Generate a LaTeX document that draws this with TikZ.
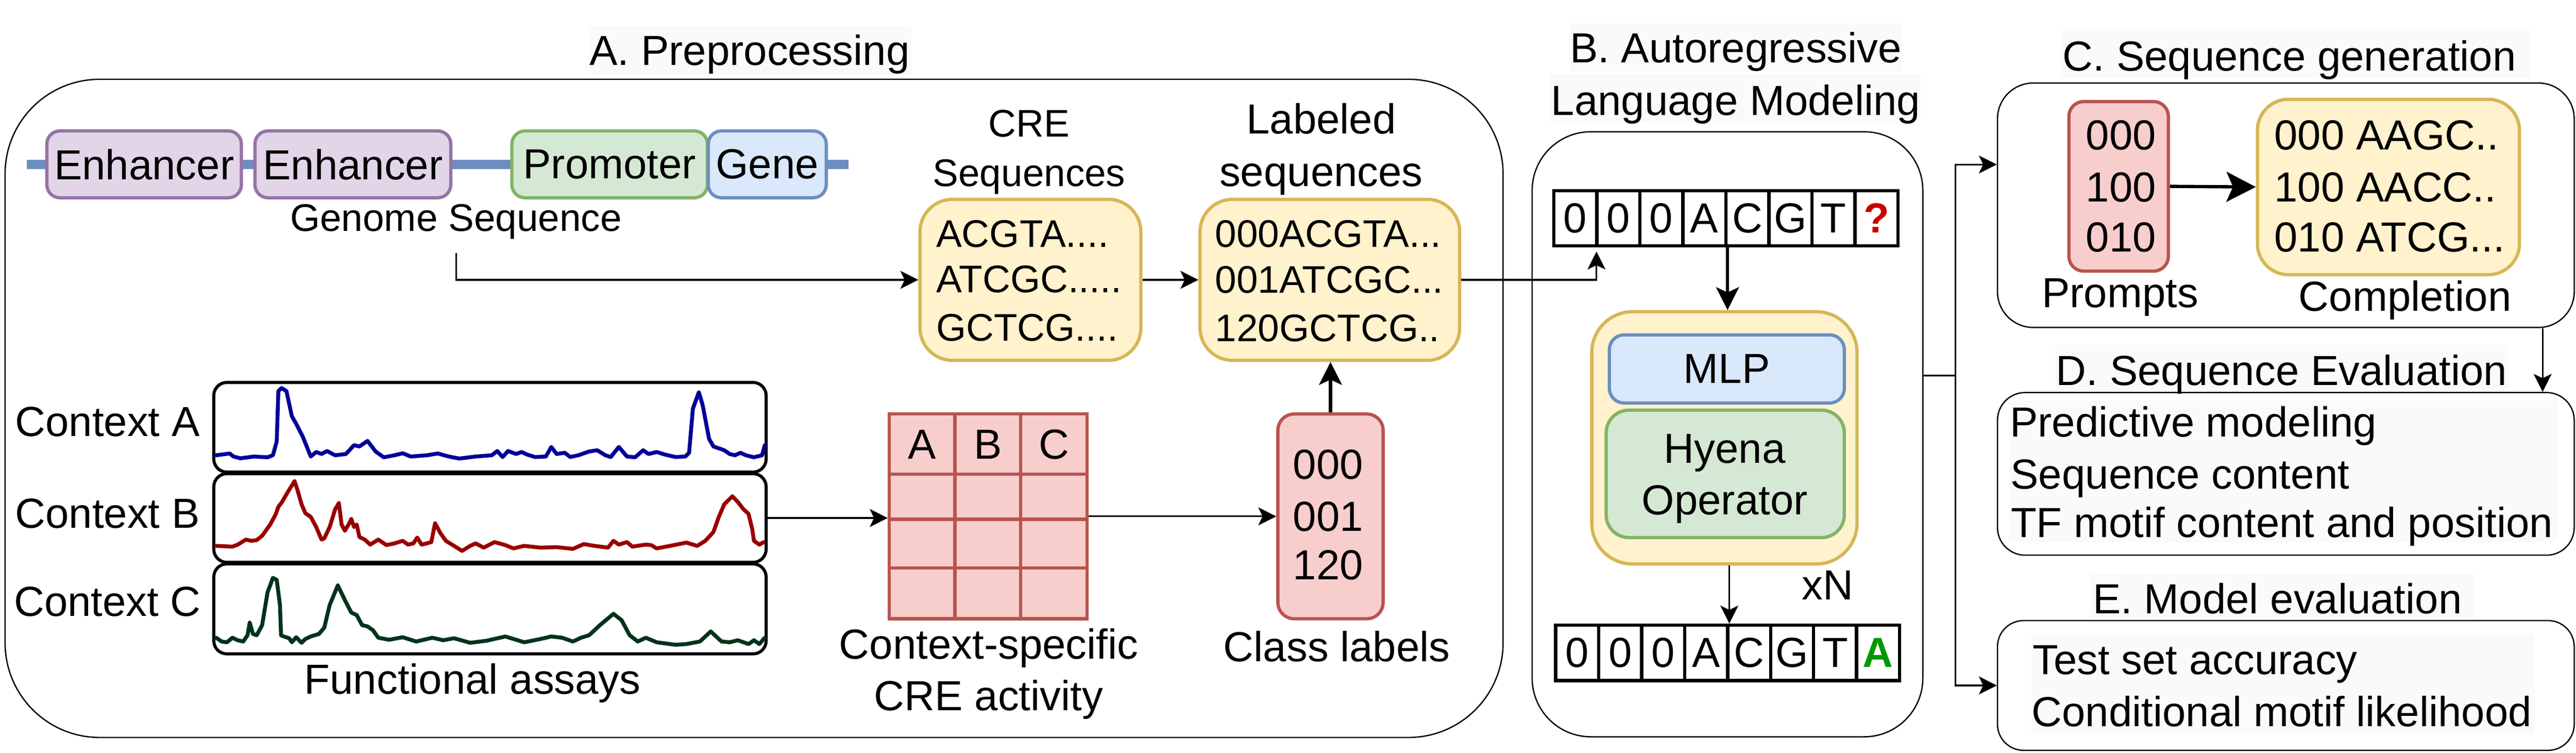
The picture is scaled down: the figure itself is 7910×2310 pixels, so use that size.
\documentclass[tikz,border=0pt]{standalone}
\usepackage{fontspec}
\setmainfont{Liberation Sans}
\usetikzlibrary{arrows.meta}
\definecolor{purF}{HTML}{E1D5E7}
\definecolor{purS}{HTML}{9673A6}
\definecolor{grnF}{HTML}{D5E8D4}
\definecolor{grnS}{HTML}{82B366}
\definecolor{bluF}{HTML}{DAE8FC}
\definecolor{bluS}{HTML}{6C8EBF}
\definecolor{yelF}{HTML}{FFF2CC}
\definecolor{yelS}{HTML}{D6B656}
\definecolor{redF}{HTML}{F8CECC}
\definecolor{redS}{HTML}{B85450}
\definecolor{bgc}{HTML}{FAFAFA}
\definecolor{sigA}{HTML}{000099}
\definecolor{sigB}{HTML}{990000}
\definecolor{sigC}{HTML}{00331A}
\definecolor{qred}{HTML}{CC0000}
\definecolor{agrn}{HTML}{009900}
\tikzset{
  T/.style={inner sep=0pt, font=\fontsize{36.7}{44}\selectfont},
  Ts/.style={inner sep=0pt, font=\fontsize{33.6}{40}\selectfont},
  panel/.style={draw=black, line width=1.14pt, inner sep=0pt},
  cbox/.style={line width=2.85pt, inner sep=0pt, T},
  purbox/.style={cbox, draw=purS, fill=purF, rounded corners=0.4cm, minimum height=2.05cm},
  grnbox/.style={cbox, draw=grnS, fill=grnF},
  blubox/.style={cbox, draw=bluS, fill=bluF},
  yelbox/.style={cbox, draw=yelS, fill=yelF},
  redbox/.style={cbox, draw=redS, fill=redF},
  assay/.style={draw=black, line width=2.7pt, rounded corners=0.4cm, inner sep=0pt, minimum width=16.95cm},
  tok/.style={draw=black, line width=2.85pt, minimum width=1.32125cm, minimum height=1.7cm, inner sep=0pt, T},
  thinln/.style={line width=1.42pt},
  thinarr/.style={line width=1.42pt, -{Stealth[length=0.55cm, width=0.55cm, inset=0.13cm]}},
  thickarr/.style={line width=2.85pt, -{Stealth[length=0.7cm, width=0.7cm, inset=0.16cm]}},
  bigarr/.style={line width=2.85pt, -{Stealth[length=0.9cm, width=0.92cm, inset=0.2cm]}},
  sig/.style={line width=3.4pt, line join=round, line cap=round}
}
\begin{document}
\begin{tikzpicture}[x=0.01cm, y=-0.01cm]
\useasboundingbox (0,0) rectangle (7910,2310);

% ---------- title backgrounds ----------
\fill[bgc] (1810,80) rectangle (2799,230);
\fill[bgc] (4819,71) rectangle (5840,218);
\fill[bgc] (4758,228) rectangle (5898,376);
\fill[bgc] (6329,88) rectangle (7769,239);
\fill[bgc] (6311,1058) rectangle (7699,1196);
\fill[bgc] (6420,1760) rectangle (7598,1897);

% ---------- panels ----------
\node[panel, rounded corners=2.9cm, minimum width=45.97cm, minimum height=20.19cm] (pA) at (2315.5,1253.5) {};
\node[panel, rounded corners=1.8cm, minimum width=11.99cm, minimum height=18.56cm] (pB) at (5304.5,1333) {};
\node[panel, rounded corners=1.1cm, minimum width=17.70cm, minimum height=7.50cm] (pC) at (7019,630) {};
\node[panel, rounded corners=0.85cm, minimum width=17.70cm, minimum height=4.99cm] (pD) at (7019,1454.5) {};
\node[panel, rounded corners=0.8cm, minimum width=17.70cm, minimum height=3.98cm] (pE) at (7019,2104) {};

\fill[bgc] (6170,1230) rectangle (7851,1665);
\fill[bgc] (6238,1945) rectangle (7784,2254);

% ---------- titles ----------
\node[T, anchor=base] (ttlA) at (2302,200) {A. Preprocessing};
\node[T, anchor=base] (ttlB1) at (5330,192) {B. Autoregressive};
\node[T, anchor=base] (ttlB2) at (5330,354) {Language Modeling};
\node[T, anchor=base] (ttlC) at (7030,218) {C. Sequence generation};
\node[T, anchor=base] (ttlD) at (7006,1183) {D. Sequence Evaluation};
\node[T, anchor=base] (ttlE) at (6993,1883) {E. Model evaluation};

% ---------- genome ----------
\draw[bluS, line width=8.2pt] (83,505) -- (2605,505);
\node[purbox, minimum width=5.97cm] (enh1) at (442.5,504.5) {Enhancer};
\node[purbox, minimum width=6.01cm] (enh2) at (1083.5,504.5) {Enhancer};
\node[grnbox, rounded corners=0.4cm, minimum width=6.00cm, minimum height=2.05cm] (prom) at (1872,504.5) {Promoter};
\node[blubox, rounded corners=0.4cm, minimum width=3.62cm, minimum height=2.05cm] (gene) at (2356,504.5) {Gene};
\node[Ts, anchor=base] (gseq) at (1400,710) {Genome Sequence};

% ---------- CRE sequences ----------
\node[Ts, anchor=base] (creT1) at (3160,420) {CRE};
\node[Ts, anchor=base] (creT2) at (3160,572) {Sequences};
\node[yelbox, rounded corners=1.0cm, minimum width=6.78cm, minimum height=4.94cm] (cre) at (3164,859) {};
\node[Ts, anchor=base west] (cre1) at (2874,759) {ACGTA....};
\node[Ts, anchor=base west] (cre2) at (2874,898) {ATCGC.....};
\node[Ts, anchor=base west] (cre3) at (2874,1047) {GCTCG....};

% ---------- labeled sequences ----------
\node[T, anchor=base] (labT1) at (4057,411) {Labeled};
\node[T, anchor=base] (labT2) at (4057,572) {sequences};
\node[yelbox, rounded corners=1.0cm, minimum width=7.97cm, minimum height=4.94cm] (lab) at (4083.5,859) {};
\node[Ts, anchor=base west] (lab1) at (3731,759) {000ACGTA...};
\node[Ts, anchor=base west] (lab2) at (3731,900) {001ATCGC...};
\node[Ts, anchor=base west] (lab3) at (3731,1048) {120GCTCG..};

% ---------- functional assays ----------
\node[assay, minimum height=2.75cm] (asA) at (1504.5,1311.5) {};
\node[assay, minimum height=2.72cm] (asB) at (1504.5,1590) {};
\node[assay, minimum height=2.76cm] (asC) at (1504.5,1869) {};
\node[T, anchor=base] (ctxA) at (330,1339) {Context A};
\node[T, anchor=base] (ctxB) at (330,1621) {Context B};
\node[T, anchor=base] (ctxC) at (330,1891) {Context C};
\node[T, anchor=base] (fa) at (1451,2130) {Functional assays};

\begin{scope}[shift={(0,1100)}, x=0.01658cm, y=-0.007717cm]
\draw[sig, sigA] plot coordinates {(400,385) (425,378) (432,390) (445,397) (470,390) (495,393) (505,385) (512,330) (515,130) (521,118) (530,130) (540,230) (548,260) (560,310) (575,390) (585,372) (595,380) (605,368) (620,385) (640,380) (655,345) (665,350) (680,328) (695,370) (710,393) (730,385) (745,377) (760,390) (790,385) (810,378) (825,387) (835,392) (850,398) (880,390) (910,385) (920,368) (930,392) (940,368) (955,380) (965,372) (975,382) (990,392) (1010,390) (1020,352) (1030,380) (1045,375) (1055,392) (1070,385) (1090,370) (1105,365) (1120,385) (1130,392) (1145,352) (1160,390) (1175,393) (1190,365) (1200,380) (1215,372) (1230,382) (1250,392) (1268,390) (1275,375) (1282,200) (1293,135) (1300,185) (1312,320) (1320,350) (1340,365) (1350,380) (1360,385) (1370,375) (1380,385) (1395,393) (1410,385) (1415,345)};
\draw[sig, sigB] plot coordinates {(400,745) (430,748) (440,740) (455,720) (465,725) (475,722) (485,705) (500,660) (510,620) (515,590) (522,570) (530,540) (545,488) (550,520) (558,580) (565,615) (575,630) (585,670) (595,720) (600,715) (610,670) (620,600) (627,575) (632,660) (638,685) (645,660) (650,638) (655,670) (660,660) (665,710) (675,720) (685,740) (700,720) (715,742) (730,735) (745,725) (755,740) (765,735) (772,712) (780,740) (790,735) (798,730) (805,655) (815,695) (825,725) (840,745) (855,765) (870,745) (880,735) (895,752) (915,730) (935,742) (950,755) (970,745) (1000,752) (1030,750) (1060,757) (1080,738) (1100,745) (1125,752) (1135,725) (1145,740) (1160,730) (1170,748) (1185,743) (1195,740) (1205,742) (1215,755) (1240,745) (1270,732) (1290,745) (1305,725) (1320,690) (1330,630) (1340,580) (1355,548) (1365,570) (1375,598) (1385,618) (1392,680) (1395,725) (1405,740) (1413,730)};
\draw[sig, sigC] plot coordinates {(400,1110) (410,1125) (420,1128) (430,1110) (440,1120) (450,1125) (458,1100) (462,1050) (468,1095) (475,1100) (485,1060) (495,930) (505,872) (512,880) (518,980) (520,1100) (525,1105) (535,1112) (540,1128) (548,1108) (558,1130) (565,1115) (575,1105) (590,1095) (600,1070) (610,980) (625,902) (638,960) (650,1010) (660,1020) (670,1060) (680,1065) (690,1080) (700,1110) (720,1118) (745,1108) (770,1125) (800,1110) (820,1120) (840,1112) (870,1130) (900,1122) (935,1105) (970,1128) (1000,1115) (1020,1105) (1040,1110) (1060,1125) (1075,1110) (1090,1100) (1110,1060) (1135,1015) (1150,1040) (1165,1100) (1180,1125) (1195,1110) (1215,1128) (1250,1138) (1270,1135) (1295,1125) (1315,1085) (1335,1125) (1350,1128) (1365,1120) (1385,1135) (1395,1120) (1405,1135) (1415,1110)};
\end{scope}

% ---------- activity table ----------
\node[redbox, minimum width=6.07cm, minimum height=6.28cm] (tbl) at (3034.5,1585) {};
\draw[redS, line width=2.85pt] (2932,1271) -- (2932,1899) (3134,1271) -- (3134,1899)
  (2731,1455) -- (3338,1455) (2731,1594) -- (3338,1594) (2731,1743) -- (3338,1743);
\node[T, anchor=base] (hA) at (2831.5,1409) {A};
\node[T, anchor=base] (hB) at (3033,1409) {B};
\node[T, anchor=base] (hC) at (3236,1409) {C};
\node[T, anchor=base] (csa1) at (3036,2022) {Context-specific};
\node[T, anchor=base] (csa2) at (3036,2180) {CRE activity};

% ---------- class labels ----------
\node[redbox, rounded corners=0.5cm, minimum width=3.23cm, minimum height=6.28cm] (cls) at (4085.5,1585) {};
\node[T, anchor=base] (cl1) at (4078,1470) {000};
\node[T, anchor=base] (cl2) at (4078,1631) {001};
\node[T, anchor=base] (cl3) at (4078,1779) {120};
\node[T, anchor=base] (clT) at (4105,2030) {Class labels};

% ---------- panel B ----------
\foreach \s [count=\i] in {0,0,0,A,C,G,T}
  \node[tok] (t\i) at ({4771+132.125*(\i-0.5)},670) {\s};
\node[tok, text=qred, font=\fontsize{36.7}{44}\selectfont\bfseries] (t8) at ({4771+132.125*7.5},670) {?};
\node[yelbox, rounded corners=1.25cm, minimum width=8.14cm, minimum height=7.74cm] (blk) at (5295,1344) {};
\node[blubox, rounded corners=0.45cm, minimum width=7.21cm, minimum height=2.09cm] (mlp) at (5302.5,1132.5) {MLP};
\node[grnbox, rounded corners=0.7cm, minimum width=7.31cm, minimum height=3.91cm] (hy) at (5297.5,1454.5) {};
\node[T, anchor=base] (hy1) at (5296,1422) {Hyena};
\node[T, anchor=base] (hy2) at (5296,1579) {Operator};
\node[T, anchor=base] (xn) at (5612,1841) {xN};
\foreach \s [count=\i] in {0,0,0,A,C,G,T}
  \node[tok] (b\i) at ({4777+132*(\i-0.5)},2004) {\s};
\node[tok, text=agrn, font=\fontsize{36.7}{44}\selectfont\bfseries] (b8) at ({4777+132*7.5},2004) {A};

% ---------- panel C ----------
\node[redbox, rounded corners=0.45cm, minimum width=3.05cm, minimum height=5.20cm] (pr) at (6505.5,572) {};
\node[T, anchor=base] (pr1) at (6513,460) {000};
\node[T, anchor=base] (pr2) at (6513,619) {100};
\node[T, anchor=base] (pr3) at (6513,773) {010};
\node[yelbox, rounded corners=0.95cm, minimum width=8.04cm, minimum height=5.38cm] (cm) at (7334,574) {};
\node[T, anchor=base west] (cm1) at (6983,460) {000 AAGC..};
\node[T, anchor=base west] (cm2) at (6983,619) {100 AACC..};
\node[T, anchor=base west] (cm3) at (6983,773) {010 ATCG...};
\node[T, anchor=base] (prT) at (6510,943) {Prompts};
\node[T, anchor=base] (cmT) at (7385,955) {Completion};

% ---------- panels D, E text ----------
\node[T, anchor=base west] (d1) at (6171,1341) {Predictive modeling};
\node[T, anchor=base west] (d2) at (6173,1500) {Sequence content};
\node[T, anchor=base west] (d3) at (6174,1650) {TF motif content and position};
\node[T, anchor=base west] (e1) at (6241,2070) {Test set accuracy};
\node[T, anchor=base west] (e2) at (6238,2230) {Conditional motif likelihood};

% ---------- connectors ----------
\coordinate (gsout) at (1401,776);
\draw[thinarr] (gsout) |- (cre.west);
\draw[thinarr] (cre.east) -- (lab.west);
\draw[thinarr] (lab.east) -| ([xshift=-0.06cm, yshift=-0.12cm]t1.south east);
\draw[thinarr] (asB.east) -- (asB.east -| tbl.west);
\draw[thinarr] (tbl.east) -- (cls.west);
\draw[thickarr] (cls.north) -- (cls.north |- lab.south);
\draw[thickarr] (t4.south east) -- (t4.south east |- blk.north);
\draw[thinarr] (b4.north east |- blk.south) -- (b4.north east);
\coordinate (jn) at (6005,1153);
\draw[thinln] ([yshift=1.8cm]pB.east) -- (jn);
\draw[thinarr] (jn) |- ([yshift=1.25cm]pC.west);
\draw[thinarr] (jn) |- (pE.west);
\draw[thinarr] ([xshift=-0.99cm]pC.south east) -- ([xshift=-0.99cm]pD.north east);
\draw[bigarr] (pr.east) -- (cm.west);
\end{tikzpicture}
\end{document}
